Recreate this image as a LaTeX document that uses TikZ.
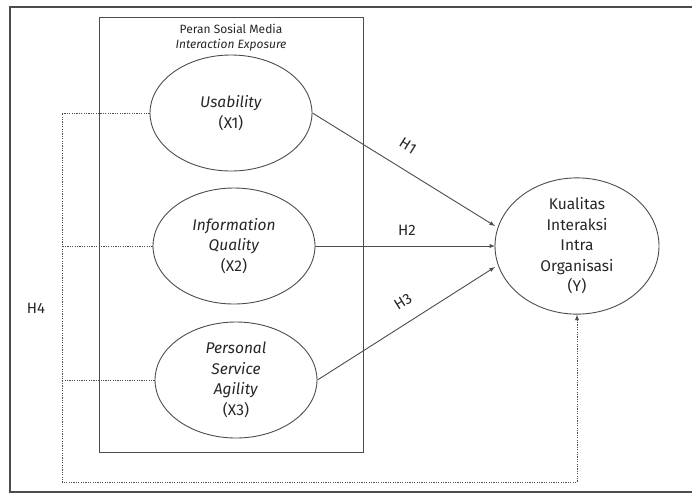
\documentclass[tikz,border=0pt]{standalone}
\usepackage{fontspec}
\setmainfont{Fira Sans}
\usetikzlibrary{arrows,calc,shapes.geometric,positioning}
\definecolor{LineClr}{rgb}{0.3,0.3,0.3}
\definecolor{TextClr}{rgb}{0.15,0.15,0.15}

\begin{document}
\begin{tikzpicture}[x=1pt,y=-1pt,
  var/.style={ellipse,draw=LineClr,line width=0.9pt,minimum width=162pt,minimum height=116pt,
    inner sep=0pt,align=center,text=TextClr,font=\fontsize{15.5}{20.5}\selectfont},
  hyp/.style={-latex,draw=LineClr,line width=0.9pt},
  dots/.style={draw=LineClr,line width=0.9pt,dash pattern=on 1.2pt off 1.2pt},
  lbl/.style={text=TextClr,font=\fontsize{15}{16}\selectfont}]
\useasboundingbox (0,0) rectangle (692,493);

\draw[LineClr,line width=1.1pt] (692,7) -- (10,7) -- (10,492) -- (692,492);
\draw[LineClr,line width=1pt] (99,17) rectangle (363,452);

\node[text=TextClr,font=\fontsize{12}{13}\selectfont] (title) at (231,29) {Peran Sosial Media};
\node[text=TextClr,font=\fontsize{12}{13}\selectfont\itshape] (subtitle) at (231,45) {Interaction Exposure};

\node[var] (X1) at (231,113) {\textit{Usability}\\(X1)};
\node[var] (X2) at (234,246) {\textit{Information}\\\textit{Quality}\\(X2)};
\node[var] (X3) at (236,380) {\textit{Personal}\\\textit{Service}\\\textit{Agility}\\(X3)};
\node[var,minimum width=164pt,minimum height=118pt] (Y) at (577,246) {Kualitas\\Interaksi\\Intra\\Organisasi\\(Y)};

\coordinate (y1) at (495,226);
\coordinate (y2) at (495,246);
\coordinate (y3) at (495,267);
\coordinate (h4) at (62,482);

\draw[hyp] (X1.east) -- (y1);
\draw[hyp] (X2.east) -- (y2);
\draw[hyp] (X3.east) -- (y3);

\draw[dots,-latex] (X1.west) -| (h4) -| (Y.south);
\draw[dots] (X2.west) -- (X2.west -| h4);
\draw[dots] (X3.west) -- (X3.west -| h4);

\node[lbl,rotate=-32] (H1) at (408,146) {H1};
\node[lbl] (H2) at (407,230) {H2};
\node[lbl,rotate=32] (H3) at (403,302) {H3};
\node[lbl] (H4) at (36,308) {H4};
\end{tikzpicture}
\end{document}
